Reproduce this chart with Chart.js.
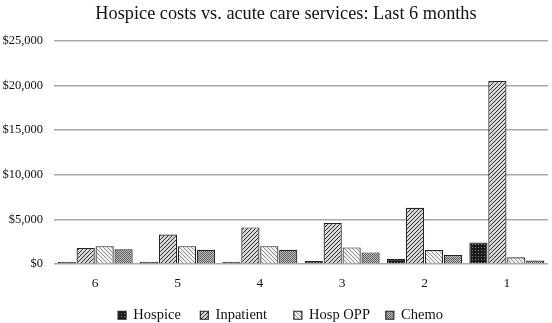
<!DOCTYPE html>
<html>
<head>
<meta charset="utf-8">
<script src="https://cdn.jsdelivr.net/npm/chart.js@4.4.1/dist/chart.umd.min.js"></script>
<style>
  html, body { margin: 0; padding: 0; background: #fff; }
  #wrap { width: 552px; height: 323px; }
</style>
</head>
<body>
<div id="wrap"><canvas id="myChart"></canvas></div>
<script>
const months = ['6', '5', '4', '3', '2', '1'];
const hospice = [250, 250, 250, 330, 550, 2420];
const inpatient = [1800, 3300, 4100, 4600, 6300, 20500];
const hospOpp = [2000, 2000, 2000, 1860, 1560, 750];
const chemo = [1650, 1600, 1600, 1300, 1000, 400];

// small pixel tiles turned into canvas patterns
function makePattern(size, bg, fg, pixels) {
    const c = document.createElement('canvas');
    c.width = size; c.height = size;
    const p = c.getContext('2d');
    p.fillStyle = bg;
    p.fillRect(0, 0, size, size);
    p.fillStyle = fg;
    pixels.forEach(function (xy) { p.fillRect(xy[0], xy[1], 1, 1); });
    return p.createPattern(c, 'repeat');
}

const ctx = document.getElementById('myChart').getContext('2d');

const patHospice = makePattern(3, '#1a1a1a', '#8a8a8a', [[1, 1]]);
const patInpatient = makePattern(4, '#d8d8d8', '#2a2a2a', [[0, 3], [1, 2], [2, 1], [3, 0]]);
const patOpp = makePattern(4, '#f2f2f2', '#8c8c8c', [[0, 0], [1, 1], [2, 2], [3, 3]]);
const patChemo = makePattern(2, '#c4c4c4', '#5a5a5a', [[0, 0], [1, 1]]);

const serif = '"Liberation Serif", "DejaVu Serif", serif';

// title and legend sit a bit right of centre in the original
const shiftBlocks = {
    id: 'shiftBlocks',
    afterLayout: function (chart) {
        chart.legend.left += 13;
        chart.titleBlock.left += 24;
    }
};

const legendGaps = ['    ', '      ', '   ', ''];

new Chart(ctx, {
    type: 'bar',
    data: {
        labels: months,
        datasets: [
            { label: 'Hospice', data: hospice, backgroundColor: patHospice },
            { label: 'Inpatient', data: inpatient, backgroundColor: patInpatient },
            { label: 'Hosp OPP', data: hospOpp, backgroundColor: patOpp },
            { label: 'Chemo', data: chemo, backgroundColor: patChemo }
        ].map(function (d) {
            d.borderColor = '#222';
            d.borderWidth = 1.2;
            d.barPercentage = 0.96;
            d.categoryPercentage = 0.92;
            return d;
        })
    },
    plugins: [shiftBlocks],
    options: {
        responsive: true,
        maintainAspectRatio: false,
        animation: false,
        layout: { padding: { left: 0, right: 4, top: 2, bottom: 0 } },
        plugins: {
            title: {
                display: true,
                text: 'Hospice costs vs. acute care services: Last 6 months',
                color: '#111',
                font: { family: serif, size: 18.3, weight: 'normal' },
                padding: { top: 1, bottom: 16 }
            },
            legend: {
                position: 'bottom',
                maxHeight: 20,
                labels: {
                    color: '#111',
                    boxWidth: 8,
                    boxHeight: 8,
                    padding: 5,
                    font: { family: serif, size: 14.5 },
                    generateLabels: function (chart) {
                        const items = Chart.defaults.plugins.legend.labels.generateLabels(chart);
                        items.forEach(function (it, i) { it.text = it.text + legendGaps[i]; });
                        return items;
                    }
                }
            },
            tooltip: { enabled: false }
        },
        scales: {
            x: {
                afterFit: function (scale) { scale.height = 39; },
                grid: { display: false },
                border: { display: false },
                ticks: { color: '#111', font: { family: serif, size: 13.5 }, padding: 3 }
            },
            y: {
                min: 0,
                max: 25000,
                afterFit: function (scale) { scale.width = 54; },
                ticks: {
                    stepSize: 5000,
                    color: '#111',
                    padding: 11,
                    font: { family: serif, size: 12.5 },
                    callback: function (v) { return '$' + v.toLocaleString('en-US'); }
                },
                grid: { color: '#a8a8a8', lineWidth: 1.5, drawTicks: false },
                border: { display: false }
            }
        }
    }
});
</script>
</body>
</html>
